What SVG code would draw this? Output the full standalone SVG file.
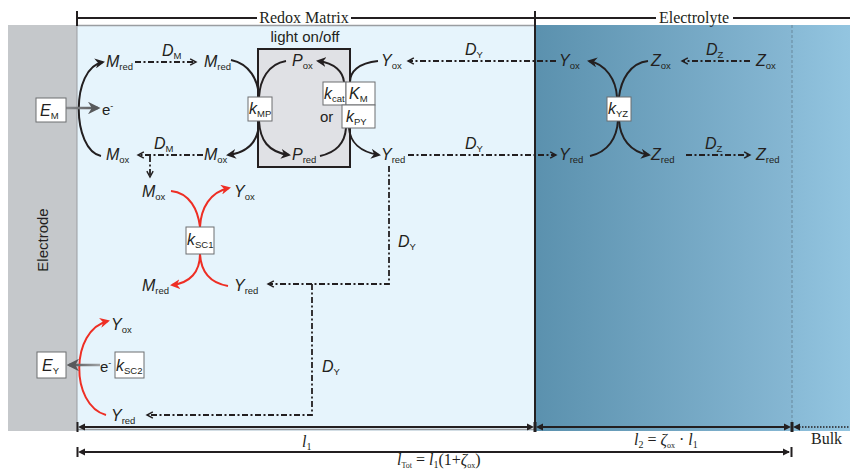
<svg xmlns="http://www.w3.org/2000/svg" width="850" height="469" viewBox="0 0 850 469">
<defs>
<linearGradient id="teal" x1="0" y1="0" x2="1" y2="0"><stop offset="0" stop-color="#5b91ae"/><stop offset="1" stop-color="#86b7d3"/></linearGradient>
<linearGradient id="bulk" x1="0" y1="0" x2="1" y2="0"><stop offset="0" stop-color="#88bad6"/><stop offset="1" stop-color="#93c5e0"/></linearGradient>
<linearGradient id="grayarr" gradientUnits="userSpaceOnUse" x1="66" y1="0" x2="98" y2="0"><stop offset="0" stop-color="#8a8c8f"/><stop offset="1" stop-color="#58595b"/></linearGradient>
<linearGradient id="grayarr2" gradientUnits="userSpaceOnUse" x1="100" y1="0" x2="69" y2="0"><stop offset="0" stop-color="#a0a3a6"/><stop offset="1" stop-color="#4d4e50"/></linearGradient>
<marker id="ah" viewBox="0 0 10 10" refX="8" refY="5" markerWidth="5" markerHeight="5" orient="auto" markerUnits="strokeWidth"><path d="M0,0 L10,5 L0,10 L3,5 z" fill="#231f20"/></marker>
<marker id="ahr" viewBox="0 0 10 10" refX="8" refY="5" markerWidth="5" markerHeight="5" orient="auto" markerUnits="strokeWidth"><path d="M0,0 L10,5 L0,10 L3,5 z" fill="#ee2e24"/></marker>
<marker id="ahg" viewBox="0 0 10 10" refX="8" refY="5" markerWidth="5" markerHeight="5" orient="auto" markerUnits="strokeWidth"><path d="M0,0 L10,5 L0,10 L3,5 z" fill="#58595b"/></marker>
<marker id="oc" viewBox="0 0 10 10" refX="8" refY="5" markerWidth="5" markerHeight="5" orient="auto" markerUnits="strokeWidth"><path d="M1.5,1.5 L8,5 L1.5,8.5" fill="none" stroke="#231f20" stroke-width="1.6"/></marker>
</defs>
<style>
.v{font-family:"Liberation Sans",Arial,sans-serif;font-style:italic;font-size:16px;fill:#231f20}
.s{font-style:normal;font-size:9.5px}
.t{font-family:"Liberation Sans",Arial,sans-serif;font-size:15px;fill:#231f20}
.h{font-family:"Liberation Serif","Times New Roman",serif;font-size:16px;fill:#231f20}
.c{fill:none;stroke:#231f20;stroke-width:2;marker-end:url(#ah)}
.cn{fill:none;stroke:#231f20;stroke-width:2}
.r{fill:none;stroke:#ee2e24;stroke-width:2;marker-end:url(#ahr)}
.rn{fill:none;stroke:#ee2e24;stroke-width:2}
.da{fill:none;stroke:#231f20;stroke-width:1.8;stroke-dasharray:6 2.5 2 2.5;marker-end:url(#oc)}
.box{fill:#ffffff;stroke:#6d6e71;stroke-width:1}
.dim{stroke:#231f20;stroke-width:2;fill:none}
</style>
<!-- background regions -->
<rect x="8" y="25" width="69" height="406" fill="#c5c8cb"/>
<rect x="77" y="25" width="458" height="406" fill="#e6f4fc"/>
<rect x="535" y="25" width="257" height="406" fill="url(#teal)"/>
<rect x="792" y="25" width="58" height="406" fill="url(#bulk)"/>
<line x1="792" y1="25" x2="792" y2="431" stroke="#5f7f90" stroke-width="0.8" stroke-dasharray="3 2"/>
<line x1="77" y1="25.5" x2="535" y2="25.5" stroke="#9a9da1" stroke-width="1.5"/>
<line x1="77" y1="25" x2="77" y2="431" stroke="#9a9da1" stroke-width="1"/>
<line x1="535" y1="11" x2="535" y2="431" stroke="#231f20" stroke-width="2"/>
<!-- top bar -->
<g id="topbar">
<line x1="77" y1="11" x2="77" y2="26" stroke="#231f20" stroke-width="2"/>
<line x1="77" y1="18" x2="257" y2="18" stroke="#231f20" stroke-width="2"/>
<line x1="351" y1="18" x2="656" y2="18" stroke="#231f20" stroke-width="2"/>
<line x1="733" y1="18" x2="850" y2="18" stroke="#231f20" stroke-width="2"/>
<text class="h" x="304" y="23" text-anchor="middle">Redox Matrix</text>
<text class="h" x="694" y="23" text-anchor="middle">Electrolyte</text>
</g>
<text class="t" x="0" y="0" font-size="16" text-anchor="middle" transform="translate(48,240) rotate(-90)">Electrode</text>
<!-- light box -->
<g id="lightbox">
<rect x="258" y="49" width="92" height="118" fill="#e0e1e5" stroke="#231f20" stroke-width="2"/>
<text class="t" x="305" y="42" text-anchor="middle">light on/off</text>
</g>
<!-- connectors -->
<g id="connectors">
<path class="c" d="M101 156 C72 150 70 68 103 62"/>
<path class="da" d="M135 62 L196 62"/>
<path class="da" d="M203 155 L138 155"/>
<path class="da" d="M150 156 L150 177"/>
<path class="cn" d="M231 60 C250 64 258 80 259 97"/>
<path class="cn" d="M286 61 C268 64 260 80 259 97"/>
<path class="c" d="M259 121 C259 140 250 152 228 155"/>
<path class="c" d="M259 121 C260 140 268 152 289 155"/>
<path class="cn" d="M378 61 C358 63 350 72 350 82"/>
<path class="c" d="M344 82 C343 72 335 63 318 61"/>
<path class="c" d="M349 128 C350 142 360 152 379 155"/>
<path class="cn" d="M320 156 C338 152 345 142 346 128"/>
<path class="da" d="M556 61 L408 61"/>
<path class="da" d="M408 155 L556 155"/>
<path class="c" d="M617 97 C616 80 606 64 589 61"/>
<path class="cn" d="M648 61 C630 63 621 80 619 97"/>
<path class="cn" d="M590 156 C608 152 617 138 618 120"/>
<path class="c" d="M619 120 C620 138 630 152 649 155"/>
<path class="da" d="M750 61 L682 61"/>
<path class="da" d="M686 155 L750 155"/>
<path class="rn" d="M171 191 C190 193 198 210 200 227"/>
<path class="r" d="M200 227 C201 208 210 192 229 188"/>
<path class="r" d="M200 254 C200 272 190 283 172 285"/>
<path class="rn" d="M228 286 C210 283 201 272 200 254"/>
<path class="da" d="M389 166 L389 284 L268 284"/>
<path class="da" d="M312 284 L312 415 L147 415"/>
<path class="r" d="M106 415 C70 405 70 330 108 321"/>
<line x1="66" y1="108" x2="98" y2="108" stroke="url(#grayarr)" stroke-width="2.5" marker-end="url(#ahg)"/>
<line x1="100" y1="365" x2="69" y2="365" stroke="url(#grayarr2)" stroke-width="2.5" marker-end="url(#ahg)"/>
</g>
<!-- labels -->
<g id="diffusion-labels">
<text class="v" x="162" y="56">D<tspan class="s" dy="3">M</tspan></text>
<text class="v" x="154" y="149">D<tspan class="s" dy="3">M</tspan></text>
<text class="v" x="465" y="55">D<tspan class="s" dy="3">Y</tspan></text>
<text class="v" x="465" y="149">D<tspan class="s" dy="3">Y</tspan></text>
<text class="v" x="398" y="247">D<tspan class="s" dy="3">Y</tspan></text>
<text class="v" x="322" y="372">D<tspan class="s" dy="3">Y</tspan></text>
<text class="v" x="706" y="55">D<tspan class="s" dy="3">Z</tspan></text>
<text class="v" x="705" y="149">D<tspan class="s" dy="3">Z</tspan></text>
</g>
<g id="n-Mred1"><text class="v" x="106" y="67">M<tspan class="s" dy="3">red</tspan></text></g>
<g id="n-Mred2"><text class="v" x="204" y="67">M<tspan class="s" dy="3">red</tspan></text></g>
<g id="n-Mox1"><text class="v" x="106" y="160">M<tspan class="s" dy="3">ox</tspan></text></g>
<g id="n-Mox2"><text class="v" x="204" y="160">M<tspan class="s" dy="3">ox</tspan></text></g>
<g id="n-Pox"><text class="v" x="292" y="66">P<tspan class="s" dy="3">ox</tspan></text></g>
<g id="n-Pred"><text class="v" x="292" y="160">P<tspan class="s" dy="3">red</tspan></text></g>
<g id="n-Yox1"><text class="v" x="381" y="66">Y<tspan class="s" dy="3">ox</tspan></text></g>
<g id="n-Yred1"><text class="v" x="381" y="160">Y<tspan class="s" dy="3">red</tspan></text></g>
<g id="n-Yox2"><text class="v" x="559" y="66">Y<tspan class="s" dy="3">ox</tspan></text></g>
<g id="n-Yred2"><text class="v" x="559" y="160">Y<tspan class="s" dy="3">red</tspan></text></g>
<g id="n-Zox1"><text class="v" x="651" y="66">Z<tspan class="s" dy="3">ox</tspan></text></g>
<g id="n-Zred1"><text class="v" x="651" y="160">Z<tspan class="s" dy="3">red</tspan></text></g>
<g id="n-Zox2"><text class="v" x="756" y="66">Z<tspan class="s" dy="3">ox</tspan></text></g>
<g id="n-Zred2"><text class="v" x="756" y="160">Z<tspan class="s" dy="3">red</tspan></text></g>
<g id="n-Mox3"><text class="v" x="142" y="197">M<tspan class="s" dy="3">ox</tspan></text></g>
<g id="n-Yox3"><text class="v" x="234" y="197">Y<tspan class="s" dy="3">ox</tspan></text></g>
<g id="n-Mred3"><text class="v" x="142" y="291">M<tspan class="s" dy="3">red</tspan></text></g>
<g id="n-Yred3"><text class="v" x="234" y="291">Y<tspan class="s" dy="3">red</tspan></text></g>
<g id="n-Yox4"><text class="v" x="111" y="330">Y<tspan class="s" dy="3">ox</tspan></text></g>
<g id="n-Yred4"><text class="v" x="111" y="421">Y<tspan class="s" dy="3">red</tspan></text></g>
<g id="n-e1"><text class="t" x="102" y="115" font-size="16">e<tspan font-size="9" dy="-6">-</tspan></text></g>
<g id="n-e2"><text class="t" x="100" y="372" font-size="16">e<tspan font-size="9" dy="-6">-</tspan></text></g>
<g id="n-or"><text class="t" x="320" y="122" font-size="16">or</text></g>
<!-- boxes -->
<g id="n-EM"><rect class="box" x="36" y="98" width="30" height="24"/><text class="v" x="40" y="116">E<tspan class="s" dy="3">M</tspan></text></g>
<g id="n-kMP"><rect class="box" x="248" y="97" width="24" height="24"/><text class="v" x="249" y="114">k<tspan class="s" dy="3" font-size="8.5">MP</tspan></text></g>
<g id="n-kcat"><rect class="box" x="323" y="82" width="23" height="23"/><text class="v" x="324" y="99">k<tspan class="s" dy="3" font-size="8.5">cat</tspan></text></g>
<g id="n-KM"><rect class="box" x="346" y="82" width="29" height="23"/><text class="v" x="349" y="99">K<tspan class="s" dy="3">M</tspan></text></g>
<g id="n-kPY"><rect class="box" x="342" y="105" width="33" height="23"/><text class="v" x="346" y="122">k<tspan class="s" dy="3">PY</tspan></text></g>
<g id="n-kYZ"><rect class="box" x="607" y="97" width="24" height="24"/><text class="v" x="608" y="114">k<tspan class="s" dy="3" font-size="8.5">YZ</tspan></text></g>
<g id="n-kSC1"><rect class="box" x="186" y="227" width="28" height="27"/><text class="v" x="187" y="245">k<tspan class="s" dy="3" font-size="8.5">SC1</tspan></text></g>
<g id="n-EY"><rect class="box" x="37" y="352" width="29" height="26"/><text class="v" x="42" y="371">E<tspan class="s" dy="3">Y</tspan></text></g>
<g id="n-kSC2"><rect class="box" x="115" y="352" width="29" height="26"/><text class="v" x="116" y="371">k<tspan class="s" dy="3" font-size="8.5">SC2</tspan></text></g>
<!-- dimensions -->
<g id="dimensions">
<line x1="77" y1="429.5" x2="535" y2="429.5" stroke="#9a9da1" stroke-width="1.5"/>
<line class="dim" x1="80" y1="427" x2="532" y2="427"/>
<line class="dim" x1="538" y1="427" x2="789" y2="427"/>
<line x1="796" y1="427" x2="850" y2="427" stroke="#231f20" stroke-width="1.5" stroke-dasharray="1.5 1.5"/>
<line class="dim" x1="80" y1="452" x2="789" y2="452"/>
<g fill="#231f20">
<rect x="76.5" y="422" width="2" height="10"/><path d="M78 427 L85 423.5 L85 430.5 z"/>
<rect x="533.5" y="422" width="3" height="10"/><path d="M534 427 L527 423.5 L527 430.5 z"/><path d="M536 427 L543 423.5 L543 430.5 z"/>
<rect x="790.5" y="422" width="3" height="10"/><path d="M791 427 L784 423.5 L784 430.5 z"/><path d="M793 427 L800 423.5 L800 430.5 z"/>
<rect x="76.5" y="447" width="2" height="10"/><path d="M78 452 L85 448.5 L85 455.5 z"/>
<rect x="790.5" y="447" width="2" height="10"/><path d="M790 452 L783 448.5 L783 455.5 z"/>
</g>
<text class="h" x="302" y="447" font-style="italic" font-size="17">l<tspan font-size="10" font-style="normal" dy="3">1</tspan></text>
<text class="h" x="634" y="445" font-style="italic" font-size="17">l<tspan font-size="10" font-style="normal" dy="3">2</tspan><tspan font-style="normal" dy="-3"> = </tspan>ζ<tspan font-size="8" font-style="normal" dy="3">ox</tspan><tspan font-style="normal" dy="-3"> · </tspan>l<tspan font-size="10" font-style="normal" dy="3">1</tspan></text>
<text class="h" x="811" y="444" font-size="17">Bulk</text>
<text class="h" x="397" y="465" font-style="italic" font-size="17">l<tspan font-size="8" font-style="normal" dy="3">Tot</tspan><tspan font-style="normal" dy="-3"> = </tspan>l<tspan font-size="10" font-style="normal" dy="3">1</tspan><tspan font-style="normal" dy="-3">(1+</tspan>ζ<tspan font-size="8" font-style="normal" dy="3">ox</tspan><tspan font-style="normal" dy="-3">)</tspan></text>
</g>
</svg>
